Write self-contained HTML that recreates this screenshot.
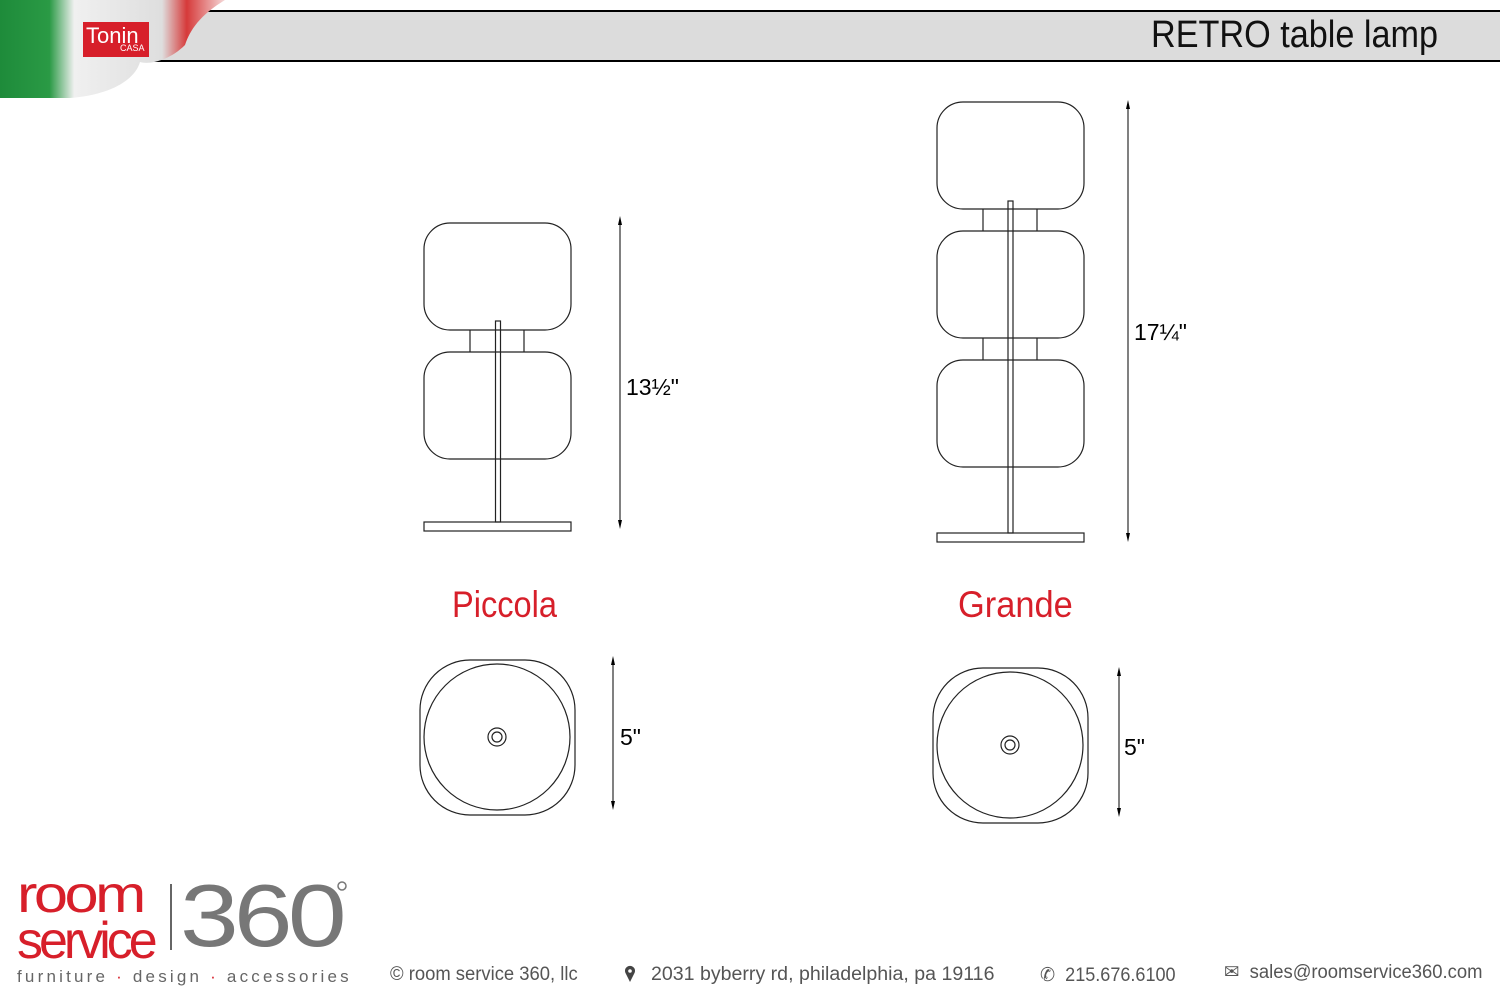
<!DOCTYPE html>
<html><head><meta charset="utf-8"><style>
body{margin:0;width:1500px;height:1000px;background:#fff;overflow:hidden;position:relative;font-family:"Liberation Sans",sans-serif}
.t{position:absolute;white-space:nowrap;transform-origin:0 0}
</style></head><body>
<svg width="1500" height="1000" style="position:absolute;left:0;top:0">
<defs>
<linearGradient id="fl" x1="0" x2="1" y1="0" y2="0">
<stop offset="0" stop-color="#1e8b3a"/><stop offset="0.22" stop-color="#2a9a45"/>
<stop offset="0.33" stop-color="#f0f0f0"/><stop offset="0.72" stop-color="#dedede"/>
<stop offset="0.83" stop-color="#d63a3a"/><stop offset="1" stop-color="#f5d8d8"/>
</linearGradient>
</defs>
<rect x="137" y="11" width="1363" height="50" fill="#dcdcdc"/>
<line x1="205" y1="11" x2="1500" y2="11" stroke="#000" stroke-width="2"/>
<line x1="137" y1="61" x2="1500" y2="61" stroke="#000" stroke-width="2"/>
<path d="M0,0 H225 C200,15 190,30 185,45 C170,60 150,65 140,62 C135,80 110,95 70,98 H0Z" fill="url(#fl)"/>
<rect x="83" y="22" width="66" height="35" fill="#d71f2a"/>
<g fill="none" stroke="#222" stroke-width="1.2">
<rect x="424" y="223" width="147" height="107" rx="26"/>
<rect x="424" y="352" width="147" height="107" rx="26"/>
<line x1="470" y1="330" x2="470" y2="352"/><line x1="524" y1="330" x2="524" y2="352"/>
<rect x="495.5" y="321" width="5" height="201"/>
<rect x="424" y="522" width="147" height="9"/>
<rect x="937" y="102" width="147" height="107" rx="26"/>
<rect x="937" y="231" width="147" height="107" rx="26"/>
<rect x="937" y="360" width="147" height="107" rx="26"/>
<line x1="983" y1="209" x2="983" y2="231"/><line x1="1037" y1="209" x2="1037" y2="231"/>
<line x1="983" y1="338" x2="983" y2="360"/><line x1="1037" y1="338" x2="1037" y2="360"/>
<rect x="1008" y="201" width="5" height="332"/>
<rect x="937" y="533" width="147" height="9"/>
<rect x="420" y="660" width="155" height="155" rx="50"/>
<circle cx="497" cy="737" r="73"/><circle cx="497" cy="737" r="9"/><circle cx="497" cy="737" r="5"/>
<rect x="933" y="668" width="155" height="155" rx="50"/>
<circle cx="1010" cy="745" r="73"/><circle cx="1010" cy="745" r="9"/><circle cx="1010" cy="745" r="5"/>
</g>
<g stroke="#000" stroke-width="1">
<line x1="620" y1="218" x2="620" y2="527"/>
<line x1="1128" y1="102" x2="1128" y2="540"/>
<line x1="613" y1="658" x2="613" y2="808"/>
<line x1="1119" y1="669" x2="1119" y2="815"/>
</g>
<g fill="#000">
<path d="M620,216 L618,225 L622,225Z"/><path d="M620,529 L618,520 L622,520Z"/>
<path d="M1128,100 L1126,109 L1130,109Z"/><path d="M1128,542 L1126,533 L1130,533Z"/>
<path d="M613,656 L611,665 L615,665Z"/><path d="M613,810 L611,801 L615,801Z"/>
<path d="M1119,667 L1117,676 L1121,676Z"/><path d="M1119,817 L1117,808 L1121,808Z"/>
</g>
<path d="M630,982 L625.5,973 A5,5 0 1,1 634.5,973 Z" fill="#444"/>
<circle cx="630" cy="971" r="1.8" fill="#fff"/>
<line x1="171" y1="884" x2="171" y2="950" stroke="#666" stroke-width="2"/>
<circle cx="342" cy="886" r="4" fill="none" stroke="#777" stroke-width="1.5"/>
</svg>
<div class="t" style="left:86px;top:23px;color:#fff;font-size:22px">Tonin</div>
<div class="t" style="left:120px;top:43px;color:#fff;font-size:9px">CASA</div>
<div class="t" style="left:1151px;top:14px;font-size:38px;color:#111;transform:scaleX(0.9)">RETRO table lamp</div>
<div class="t" style="left:626px;top:374px;font-size:23px">13½"</div>
<div class="t" style="left:1134px;top:319px;font-size:23px">17¼"</div>
<div class="t" style="left:620px;top:724px;font-size:23px">5"</div>
<div class="t" style="left:1124px;top:734px;font-size:23px">5"</div>
<div class="t" style="left:452px;top:584px;font-size:37px;color:#d71f2a;transform:scaleX(0.88)">Piccola</div>
<div class="t" style="left:958px;top:584px;font-size:37px;color:#d71f2a;transform:scaleX(0.93)">Grande</div>
<div class="t" style="left:17px;top:872px;font-size:52px;color:#d71f2a;letter-spacing:-3px;line-height:46px;transform:scaleX(1.18)">room</div>
<div class="t" style="left:17px;top:918px;font-size:52px;color:#d71f2a;letter-spacing:-4px;line-height:46px">service</div>
<div class="t" style="left:180px;top:866px;font-size:88px;color:#777;letter-spacing:-4px;line-height:100px;transform:scaleX(1.2)">360</div>
<div class="t" style="left:17px;top:967px;font-size:17px;color:#666;letter-spacing:3.2px">furniture <span style="color:#d71f2a">·</span> design <span style="color:#d71f2a">·</span> accessories</div>
<div class="t" style="left:390px;top:964px;font-size:19px;color:#555;transform:scaleX(0.97)">© room service 360, llc</div>
<div class="t" style="left:651px;top:964px;font-size:19px;color:#555;transform:scaleX(1.03)">2031 byberry rd, philadelphia, pa 19116</div>
<div class="t" style="left:1040px;top:964px;font-size:19px;color:#555;transform:scaleX(0.95)">✆&nbsp; 215.676.6100</div>
<div class="t" style="left:1224px;top:961px;font-size:19px;color:#555;transform:scaleX(0.97)">✉&nbsp; sales@roomservice360.com</div>
</body></html>
